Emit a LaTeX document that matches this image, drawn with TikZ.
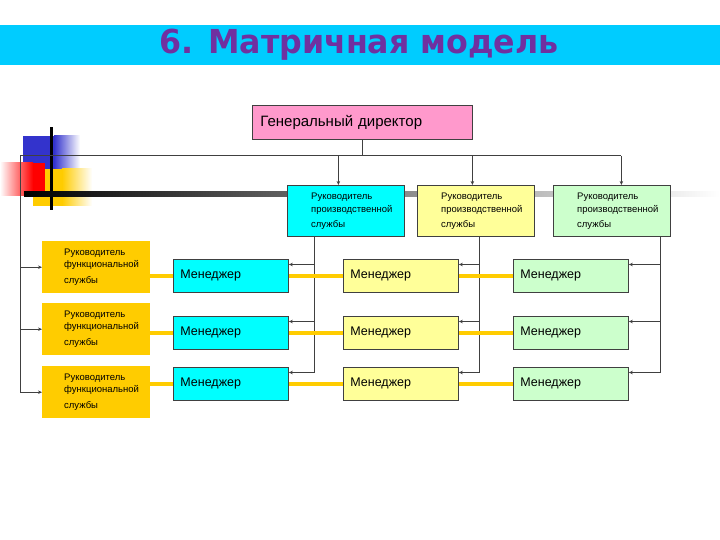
\documentclass[tikz,border=0pt]{standalone}
\usepackage{graphicx}
\usepackage{fontspec}
\setmainfont{Liberation Sans}
\newfontfamily\titlefont{DejaVu Sans}
\usetikzlibrary{arrows.meta, positioning, calc}
\definecolor{titleband}{HTML}{00CCFF}
\definecolor{titletext}{HTML}{7030A0}
\definecolor{gdpink}{HTML}{FF99CC}
\definecolor{cyanbox}{HTML}{00FFFF}
\definecolor{yellowbox}{HTML}{FFFF99}
\definecolor{greenbox}{HTML}{CCFFCC}
\definecolor{funcbox}{HTML}{FFCC00}
\definecolor{linegray}{HTML}{404040}
\definecolor{decoblue}{HTML}{3333CC}
\definecolor{decored}{HTML}{FF0000}
\definecolor{decoyellow}{HTML}{FFCC00}
\tikzset{
    box/.style = {draw=linegray, line width=0.8pt, anchor=north west, inner sep=0pt},% all framed boxes
    prod/.style = {box, minimum width=117pt, minimum height=51pt},
    func/.style = {anchor=north west, fill=funcbox, minimum width=108pt, minimum height=52pt, inner sep=0pt},
    mgr/.style = {box, minimum width=115pt, minimum height=33pt, text width=101pt, inner xsep=7pt, align=left, font=\fontsize{12.5}{14}\selectfont},
    smalltxt/.style = {anchor=west, align=left, inner sep=0pt},
    arr/.style = {draw=linegray, line width=0.7pt, -{Stealth[length=4pt,width=3.5pt]}},
    link/.style = {draw=funcbox, line width=4pt}
}

\begin{document}
\begin{tikzpicture}[x=1pt, y=-1pt]
    \useasboundingbox (0,0) rectangle (720,540);
    % title band
    \fill[titleband] (0,25) rectangle (720,65);
    \node[font=\titlefont\bfseries\fontsize{33}{33}\selectfont, text=titletext, anchor=base] (title) at (359,54) {\scalebox{0.96}[1]{6. Матричная модель}};
    % corner decoration
    \fill[decoblue] (23,136) rectangle (54,170);
    \shade[left color=decoblue, right color=white] (54,136) rectangle (80,170);
    \fill[decoyellow] (33,169) rectangle (62,206);
    \shade[left color=decoyellow, right color=white] (62,169) rectangle (92,206);
    \shade[left color=white, right color=decored] (0,163) rectangle (33,196);
    \fill[decored] (33,163) rectangle (45,196);
    \fill[black] (49.5,127) rectangle (52.5,210);
    \shade[left color=black, right color=white] (24,192) rectangle (720,197);

    % boxes
    \node[box, fill=gdpink, minimum width=220pt, minimum height=34pt, text width=204pt, inner xsep=8pt, align=left, font=\fontsize{15}{17}\selectfont] (gd) at (252,105) {Генеральный директор};
    \foreach \c/\x/\col in {1/287/cyanbox,2/417/yellowbox,3/553/greenbox}{
        \node[prod, fill=\col] (p\c) at (\x,185) {};
        \node[smalltxt, font=\fontsize{9.5}{13}\selectfont] (p\c t) at ([xshift=24pt]p\c.west) {Руководитель\\производственной\\[2pt]службы};
    }
    \foreach \r/\y in {1/241,2/303,3/366}{
        \node[func] (f\r) at (42,\y) {};
        \node[smalltxt, font=\fontsize{9.5}{12}\selectfont] (f\r t) at ([xshift=22pt]f\r.west) {Руководитель\\функциональной\\[4pt]службы};
    }
    \foreach \r/\y in {1/259,2/316,3/367}{
        \foreach \c/\x/\col in {1/173/cyanbox,2/343/yellowbox,3/513/greenbox}{
            \node[mgr, fill=\col] (m\r\c) at (\x,\y) {Менеджер};
            \coordinate (a\r\c) at ([yshift=-5.5pt]m\r\c.north east);
        }
    }

    % director to production heads
    \coordinate (busL) at (20,156);
    \coordinate (pin1) at ([xshift=-7.5pt]p1.north);
    \coordinate (pin2) at ([xshift=-3.5pt]p2.north);
    \coordinate (pin3) at ([xshift=9.5pt]p3.north);
    \draw[linegray, line width=1.2pt] (gd.south) -- (gd.south |- busL);
    \draw[linegray, line width=1pt] (busL) -- (pin3 |- busL);
    \foreach \c in {1,2,3}
        \draw[arr] (pin\c |- busL) -- (pin\c);
    % left line to functional heads
    \draw[linegray, line width=1pt] (busL) -- (f3.west -| busL);
    \foreach \r in {1,2,3}
        \draw[arr] (f\r.west -| busL) -- (f\r.west);
    % production heads to managers
    \foreach \c/\dx in {1/27,2/62,3/107}{
        \coordinate (d\c) at ([xshift=\dx pt]p\c.south west);
        \draw[linegray, line width=0.7pt] (d\c) -- (d\c |- a3\c);
        \foreach \r in {1,2,3}
            \draw[arr] (d\c |- a\r\c) -- (a\r\c);
    }
    % functional links
    \foreach \r in {1,2,3}{
        \draw[link] (f\r.east |- m\r1.west) -- (m\r1.west);
        \draw[link] (m\r1.east) -- (m\r2.west);
        \draw[link] (m\r2.east) -- (m\r3.west);
    }
\end{tikzpicture}
\end{document}
